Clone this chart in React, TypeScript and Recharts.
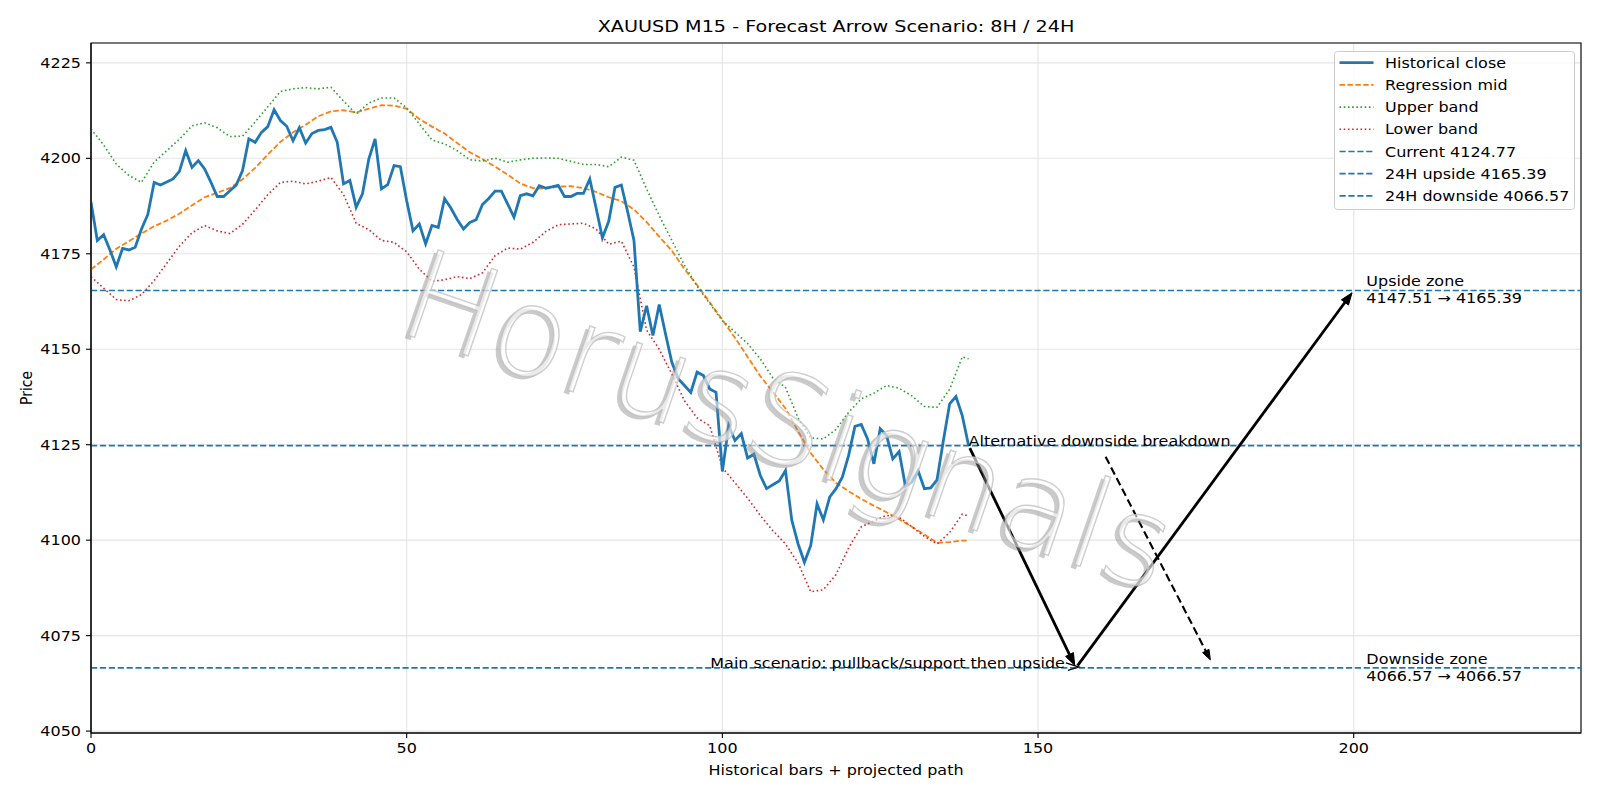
import React from 'react';
import { LineChart, Line, XAxis, YAxis, CartesianGrid, ReferenceLine, ReferenceDot, ReferenceArea } from 'recharts';

const FONT = '"DejaVu Sans", Verdana, sans-serif';
const SX = 1.15; // horizontal stretch of the reference rendering

const closeValues = [
  4188.5, 4178.5, 4180, 4176, 4171.6, 4176.4, 4176, 4176.7, 4181.5, 4185.3,
  4193.7, 4193, 4193.8, 4194.6, 4196.6, 4202, 4197.6, 4199.4, 4197.2, 4193.7,
  4190, 4190, 4191.5, 4193, 4196.8, 4205.1, 4204.2, 4206.8, 4208.3, 4212.7,
  4209.9, 4208.4, 4204.6, 4208, 4204, 4206.5, 4207.3, 4207.5, 4208.1, 4204.2,
  4193.3, 4194.2, 4187.2, 4190.7, 4199.8, 4205.1, 4192, 4193.1, 4198.1, 4197.8,
  4188.9, 4181, 4182.8, 4177.6, 4182.4, 4181.9, 4189.4, 4187, 4184, 4181.5,
  4183.2, 4183.9, 4187.9, 4189.5, 4191.4, 4191.4, 4188, 4184.6, 4190.2, 4190.7,
  4190.2, 4192.8, 4192.2, 4192.5, 4192.9, 4190, 4190, 4190.8, 4190.8, 4194.6,
  4187, 4179.2, 4183.5, 4192.4, 4193, 4186, 4178.5, 4154.6, 4161.4, 4153.6,
  4161.7, 4154, 4146.6, 4142.3, 4140.5, 4138.7, 4144, 4143.1, 4139.6, 4138.7,
  4118, 4130, 4126.1, 4127.9, 4121.5, 4122.5, 4117, 4113.5, 4114.5, 4115.5,
  4118.2, 4105.2, 4099, 4094.2, 4098.6, 4109.5, 4105.3, 4111.3, 4113.5, 4116.5,
  4122.2, 4129.8, 4130.3, 4126.5, 4120, 4129.2, 4127.4, 4121.3, 4123.2, 4114.1,
  4115.2, 4118.2, 4113.5, 4113.7, 4115.8, 4126, 4135.7, 4137.6, 4132.6, 4124.77,
];

const bandIdx = [
  0, 2, 4, 6, 8, 10, 12, 14, 16, 18, 20, 22, 24, 26, 28, 30, 32, 34, 36, 38,
  40, 42, 44, 46, 48, 50, 52, 54, 56, 58, 60, 62, 64, 66, 68, 70, 72, 74, 76, 78,
  80, 82, 84, 86, 88, 90, 92, 94, 96, 98, 100, 102, 104, 106, 108, 110, 112, 114, 116, 118,
  120, 122, 124, 126, 128, 130, 132, 134, 136, 138, 139,
];

const midValues = [
  4170.9, 4173.5, 4176.3, 4178.3, 4180.3, 4182.2, 4183.7, 4185.5, 4187.7, 4189.8,
  4191, 4192.2, 4194.5, 4197.5, 4201, 4204.3, 4206.8, 4208.8, 4211, 4212.3,
  4212.6, 4212, 4213, 4213.9, 4213.8, 4213, 4210.3, 4208.3, 4206.5, 4204,
  4201.6, 4199.8, 4197.8, 4195.7, 4193.4, 4192.2, 4192, 4192.6, 4192.7, 4192.2,
  4191.2, 4189.8, 4188.8, 4186.6, 4183.3, 4179.5, 4175.8, 4171, 4166.8, 4162.3,
  4157.7, 4153, 4148, 4143, 4138.8, 4134.5, 4128.5, 4122.8, 4118.5, 4115,
  4112.8, 4110.8, 4109, 4107.3, 4105.5, 4103.5, 4101.5, 4099.3, 4099.5, 4099.9,
  4099.9,
];

const upperValues = [
  4207.7, 4203.5, 4198.5, 4195.5, 4193.7, 4199, 4202, 4205, 4208.5, 4209.3,
  4208, 4205.7, 4205.8, 4209.5, 4213.5, 4217.5, 4218.2, 4218.5, 4218.2, 4218.6,
  4215, 4211.6, 4214.5, 4215.8, 4215.8, 4213.2, 4209, 4204.8, 4203.8, 4202,
  4199.6, 4199.3, 4200, 4199, 4199.6, 4200, 4200.1, 4200, 4199.2, 4198.4,
  4198.4, 4197.8, 4200.3, 4199.5, 4192, 4185, 4178.5, 4172, 4166.5, 4162,
  4157.5, 4154.5, 4151.5, 4147.5, 4142.5, 4140, 4132, 4126.8, 4126.5, 4129,
  4133.5, 4137, 4138.5, 4140.5, 4139.8, 4137.8, 4135, 4134.8, 4139.5, 4148,
  4147.5,
];

const lowerValues = [
  4169, 4166, 4163, 4162.7, 4164.3, 4168, 4172.5, 4177, 4180.5, 4182.4,
  4181, 4180.3, 4182.7, 4186.5, 4190.5, 4193.7, 4194, 4193.3, 4194, 4195,
  4190.5, 4183, 4181.3, 4178.5, 4178, 4175.5, 4171, 4167.8, 4168.2, 4169,
  4168.5, 4170, 4174.5, 4176.5, 4176.2, 4178, 4180.8, 4182.6, 4182.8, 4183,
  4181.5, 4177.5, 4178.3, 4171.5, 4155, 4150, 4143.5, 4136.5, 4132, 4130,
  4119, 4115, 4111, 4106.5, 4102.5, 4099, 4094, 4086.5, 4087, 4091,
  4098, 4103.5, 4105, 4106.5, 4106, 4103.5, 4101, 4099, 4102, 4106.8,
  4106.3,
];

const CURRENT = 4124.77;
const UPSIDE = 4165.39;
const DOWNSIDE = 4066.57;
const UP_ZONE_FROM = 4147.51;

const xTicks = [0, 50, 100, 150, 200];
const yTicks = [4050, 4075, 4100, 4125, 4150, 4175, 4200, 4225];
const X_DOMAIN = [0, 236];
const Y_DOMAIN = [4049.5, 4230.2];

// Projected path points (bar index, price)
const mainPath = [
  { x: 139, y: CURRENT },
  { x: 156, y: DOWNSIDE },
  { x: 200, y: UPSIDE },
];
const altPath = [
  { x: 160.5, y: 4122.5 },
  { x: 177.5, y: 4068 },
];

const data = closeValues.map((c, i) => {
  const k = bandIdx.indexOf(i);
  return {
    x: i,
    close: c,
    mid: k >= 0 ? midValues[k] : null,
    upper: k >= 0 ? upperValues[k] : null,
    lower: k >= 0 ? lowerValues[k] : null,
  };
});

const BLUE = '#1f77b4';
const ORANGE = '#ff7f0e';
const GREEN = '#2ca02c';
const RED = '#d62728';

function SText(props: {
  x: number;
  y: number;
  size?: number;
  anchor?: 'start' | 'middle' | 'end';
  dy?: string;
  rotate?: number;
  children: React.ReactNode;
}) {
  const { x, y, size = 13.9, anchor = 'start', dy, rotate, children } = props;
  const tf = rotate
    ? `translate(${x},${y}) rotate(${rotate}) scale(1,${SX})`
    : `translate(${x},${y}) scale(${SX},1)`;
  return (
    <text transform={tf} textAnchor={anchor} dy={dy} fontSize={size} fontFamily={FONT} fill="#000">
      {children}
    </text>
  );
}

const XTick = (p: any) => (
  <SText x={p.x} y={p.y} anchor="middle" dy="0.71em">
    {p.payload.value}
  </SText>
);
const YTick = (p: any) => (
  <SText x={p.x} y={p.y} anchor="end" dy="0.355em">
    {p.payload.value}
  </SText>
);

const makeArrow = (dashed: boolean, width: number) => (p: any) => {
  const { x1, y1, x2, y2 } = p;
  if ([x1, y1, x2, y2].some((v) => typeof v !== 'number' || isNaN(v))) return <g />;
  const dx = x2 - x1;
  const dy = y2 - y1;
  const len = Math.hypot(dx, dy) || 1;
  const ux = dx / len;
  const uy = dy / len;
  const shrink = 2.8;
  const sx = x1 + ux * shrink;
  const sy = y1 + uy * shrink;
  const tx = x2 - ux * shrink;
  const ty = y2 - uy * shrink;
  const hl = dashed ? 10 : 12;
  const hw = dashed ? 3.6 : 4.4;
  const bx = tx - ux * hl;
  const by = ty - uy * hl;
  const pts = `${tx},${ty} ${bx - uy * hw},${by + ux * hw} ${bx + uy * hw},${by - ux * hw}`;
  return (
    <g>
      <line
        x1={sx}
        y1={sy}
        x2={bx + ux * 2}
        y2={by + uy * 2}
        stroke="#000"
        strokeWidth={width}
        strokeDasharray={dashed ? '8 4' : undefined}
      />
      <polygon points={pts} fill="#000" stroke="#000" strokeWidth={1} strokeLinejoin="miter" />
    </g>
  );
};

const textShape = (lines: string[], anchor: 'start' | 'end', dx: number, mode: 'baseline' | 'center', extra?: boolean) => (p: any) => {
  const { cx, cy } = p;
  if (typeof cx !== 'number' || typeof cy !== 'number') return <g />;
  const lh = 16.7;
  const first = mode === 'baseline' ? cy : cy - 4;
  return (
    <g>
      {lines.map((t, i) => (
        <SText key={i} x={cx + dx} y={first + i * lh} anchor={anchor}>
          {t}
        </SText>
      ))}
      {extra ? (
        <polyline
          points={`${cx - 10},${cy - 5} ${cx + 3},${cy - 0.8} ${cx - 8},${cy + 2.6}`}
          fill="none"
          stroke="#000"
          strokeWidth={1.3}
        />
      ) : null}
    </g>
  );
};

const legendItems = [
  { label: 'Historical close', color: BLUE, w: 2.8, dash: undefined as string | undefined },
  { label: 'Regression mid', color: ORANGE, w: 1.8, dash: '5.5 2.4' },
  { label: 'Upper band', color: GREEN, w: 1.6, dash: '1.6 2.6' },
  { label: 'Lower band', color: RED, w: 1.6, dash: '1.6 2.6' },
  { label: `Current ${CURRENT}`, color: BLUE, w: 1.7, dash: '6.2 2.7' },
  { label: `24H upside ${UPSIDE}`, color: BLUE, w: 1.7, dash: '6.2 2.7' },
  { label: `24H downside ${DOWNSIDE}`, color: BLUE, w: 1.7, dash: '6.2 2.7' },
];

export default function App() {
  return (
    <div style={{ position: 'absolute', left: 0, top: 0, width: 1600, height: 800, background: '#fff' }}>
      <LineChart
        width={1600}
        height={800}
        data={data}
        margin={{ top: 43, right: 19, bottom: 37, left: 31 }}
      >
        <CartesianGrid stroke="#e4e4e4" strokeWidth={1.1} />
        <XAxis
          dataKey="x"
          type="number"
          domain={X_DOMAIN}
          ticks={xTicks}
          interval={0}
          allowDataOverflow
          height={30}
          tickSize={5}
          tickMargin={5}
          axisLine={{ stroke: '#000', strokeWidth: 1.1 }}
          tickLine={{ stroke: '#000', strokeWidth: 1.1 }}
          tick={XTick}
        />
        <YAxis
          type="number"
          domain={Y_DOMAIN}
          ticks={yTicks}
          interval={0}
          allowDataOverflow
          width={60}
          tickSize={5}
          tickMargin={5}
          axisLine={{ stroke: '#000', strokeWidth: 1.1 }}
          tickLine={{ stroke: '#000', strokeWidth: 1.1 }}
          tick={YTick}
        />
        <Line type="linear" dataKey="mid" stroke={ORANGE} strokeWidth={1.8} strokeDasharray="5.5 2.4" dot={false} connectNulls isAnimationActive={false} />
        <Line type="linear" dataKey="upper" stroke={GREEN} strokeWidth={1.6} strokeDasharray="1.6 2.6" dot={false} connectNulls isAnimationActive={false} />
        <Line type="linear" dataKey="lower" stroke={RED} strokeWidth={1.6} strokeDasharray="1.6 2.6" dot={false} connectNulls isAnimationActive={false} />
        <Line type="linear" dataKey="close" stroke={BLUE} strokeWidth={2.8} dot={false} isAnimationActive={false} />
        <ReferenceLine y={CURRENT} stroke={BLUE} strokeWidth={1.7} strokeDasharray="6.2 2.7" />
        <ReferenceLine y={UPSIDE} stroke={BLUE} strokeWidth={1.7} strokeDasharray="6.2 2.7" />
        <ReferenceLine y={DOWNSIDE} stroke={BLUE} strokeWidth={1.7} strokeDasharray="6.2 2.7" />
        <ReferenceLine segment={[mainPath[0], mainPath[1]]} shape={makeArrow(false, 2.8)} />
        <ReferenceLine segment={[mainPath[1], mainPath[2]]} shape={makeArrow(false, 2.8)} />
        <ReferenceLine segment={[altPath[0], altPath[1]]} shape={makeArrow(true, 2.1)} />
        <ReferenceDot x={139} y={CURRENT} r={0} shape={textShape(['Alternative downside breakdown'], 'start', 0, 'baseline')} />
        <ReferenceDot x={156} y={DOWNSIDE} r={0} shape={textShape(['Main scenario: pullback/support then upside'], 'end', -11, 'baseline', true)} />
        <ReferenceDot x={202} y={UPSIDE} r={0} shape={textShape(['Upside zone', `${UP_ZONE_FROM} \u2192 ${UPSIDE}`], 'start', 0, 'center')} />
        <ReferenceDot x={202} y={DOWNSIDE} r={0} shape={textShape(['Downside zone', `${DOWNSIDE} \u2192 ${DOWNSIDE}`], 'start', 0, 'center')} />
        <ReferenceArea x1={X_DOMAIN[0]} x2={X_DOMAIN[1]} y1={Y_DOMAIN[0]} y2={Y_DOMAIN[1]} fill="none" fillOpacity={0} stroke="#000" strokeWidth={1.1} strokeOpacity={1} />
      </LineChart>
      <svg
        width={1600}
        height={800}
        style={{ position: 'absolute', left: 0, top: 0, pointerEvents: 'none' }}
      >
        <g transform="translate(786,429) rotate(19)">
          <text x={-3} y={4} textAnchor="middle" dominantBaseline="middle" fontSize={124} fontWeight={200} fontFamily={FONT} fill="#8a8a8a" fillOpacity={0.45}>
            HorusSignals
          </text>
          <text x={0} y={0} textAnchor="middle" dominantBaseline="middle" fontSize={124} fontWeight={200} fontFamily={FONT} fill="#ffffff" fillOpacity={0.6} stroke="#bdbdbd" strokeWidth={1.4} strokeOpacity={0.75}>
            HorusSignals
          </text>
        </g>
        <SText x={836} y={31.5} size={16.7} anchor="middle">
          XAUUSD M15 - Forecast Arrow Scenario: 8H / 24H
        </SText>
        <SText x={836} y={775} anchor="middle">
          Historical bars + projected path
        </SText>
        <SText x={31.5} y={388} anchor="middle" rotate={-90}>
          Price
        </SText>
        <g transform="translate(1334,51)">
          <rect x={0.5} y={0.5} width={240} height={158} rx={3} ry={3} fill="#fff" fillOpacity={0.8} stroke="#cccccc" strokeWidth={1} />
          {legendItems.map((it, i) => {
            const cy = 11.7 + i * 22.2;
            return (
              <g key={it.label}>
                <line x1={5.5} y1={cy} x2={39.5} y2={cy} stroke={it.color} strokeWidth={it.w} strokeDasharray={it.dash} />
                <SText x={51} y={cy + 5}>
                  {it.label}
                </SText>
              </g>
            );
          })}
        </g>
      </svg>
    </div>
  );
}
